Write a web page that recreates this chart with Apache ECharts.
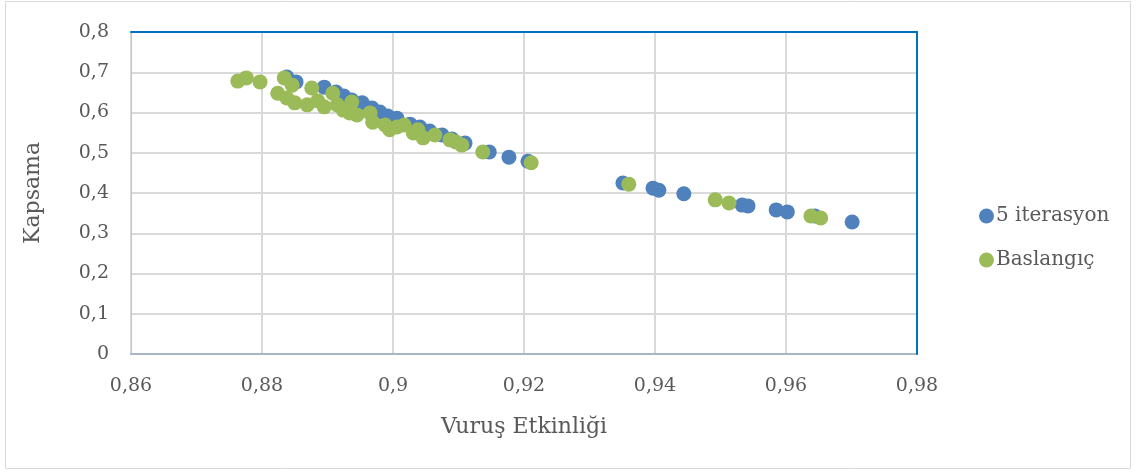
<!DOCTYPE html>
<html>
<head>
<meta charset="utf-8">
<script src="https://cdn.jsdelivr.net/npm/echarts@6/dist/echarts.min.js"></script>
<style>
  html, body { margin: 0; padding: 0; background: #ffffff; }
  #chart { width: 1137px; height: 474px; }
</style>
</head>
<body>
<div id="chart"></div>
<script>
// Series names
const seriesNames = ['5 iterasyon', 'Baslangıç'];

// 5 iterasyon: [Vuruş Etkinliği, Kapsama]
const iterX = [0.8838, 0.8852, 0.8895, 0.8913, 0.8925, 0.8937, 0.8953, 0.8968, 0.8980, 0.8992,
               0.9006, 0.9026, 0.9041, 0.9056, 0.9075, 0.9090, 0.9110, 0.9147, 0.9177, 0.9206,
               0.9351, 0.9397, 0.9406, 0.9444, 0.9533, 0.9542, 0.9585, 0.9602, 0.9644, 0.9701];
const iterY = [0.688, 0.676, 0.663, 0.651, 0.641, 0.631, 0.624, 0.611, 0.601, 0.591,
               0.586, 0.571, 0.564, 0.554, 0.544, 0.534, 0.524, 0.502, 0.489, 0.479,
               0.425, 0.412, 0.407, 0.398, 0.370, 0.368, 0.358, 0.353, 0.343, 0.328];

// Baslangıç: [Vuruş Etkinliği, Kapsama]
const startX = [0.8763, 0.8776, 0.8797, 0.8824, 0.8834, 0.8838, 0.8846, 0.8850, 0.8869, 0.8876,
                0.8885, 0.8895, 0.8908, 0.8915, 0.8924, 0.8934, 0.8937, 0.8945, 0.8965, 0.8969,
                0.8988, 0.8995, 0.9006, 0.9017, 0.9031, 0.9038, 0.9046, 0.9064, 0.9087, 0.9096,
                0.9105, 0.9137, 0.9211, 0.9360, 0.9492, 0.9513, 0.9638, 0.9653];
const startY = [0.678, 0.686, 0.676, 0.648, 0.686, 0.636, 0.668, 0.624, 0.619, 0.661,
                0.629, 0.614, 0.648, 0.619, 0.606, 0.599, 0.626, 0.594, 0.599, 0.576,
                0.569, 0.557, 0.564, 0.569, 0.549, 0.557, 0.537, 0.544, 0.532, 0.527,
                0.519, 0.502, 0.475, 0.422, 0.383, 0.375, 0.343, 0.338];

// Axis ranges
const xRange = { min: 0.86, max: 0.98, interval: 0.02 };
const yRange = { min: 0, max: 0.8, interval: 0.1 };

const zip = (xs, ys) => xs.map((x, i) => [x, ys[i]]);
const commaFmt = v => String(parseFloat(v.toFixed(2))).replace('.', ',');

const FONT = 'DejaVu Serif';
const TEXT = '#595959';
const GRIDLINE = '#D9D9D9';
const FRAME_BLUE = '#0070C0';

// Plain axis used only to draw the blue top / right frame lines
const frameAxis = (extra) => Object.assign({
  type: 'value',
  axisLine: { show: true, onZero: false, lineStyle: { color: FRAME_BLUE, width: 2 } },
  axisTick: { show: false },
  axisLabel: { show: false },
  splitLine: { show: false },
  z: 5
}, extra);

const chart = echarts.init(document.getElementById('chart'), null, { renderer: 'canvas' });

chart.setOption({
  animation: false,
  backgroundColor: '#ffffff',
  textStyle: { fontFamily: FONT, color: TEXT },
  graphic: [{
    type: 'rect',
    shape: { x: 5.5, y: 1.5, width: 1125, height: 467 },
    style: { fill: null, stroke: '#D9D9D9', lineWidth: 1 },
    silent: true
  }],
  grid: { left: 131, top: 32, width: 786, height: 322 },
  legend: {
    orient: 'vertical',
    left: 974, top: 201,
    itemWidth: 15, itemHeight: 15, itemGap: 24,
    icon: 'circle',
    textStyle: { fontFamily: FONT, fontSize: 20, color: TEXT, padding: [0, 0, 0, -3] },
    data: seriesNames
  },
  xAxis: [{
    type: 'value',
    min: xRange.min, max: xRange.max, interval: xRange.interval,
    name: 'Vuruş Etkinliği',
    nameLocation: 'middle', nameGap: 62,
    nameTextStyle: { fontFamily: FONT, fontSize: 22, color: TEXT },
    axisLine: { show: true, onZero: false, lineStyle: { color: '#A9B6C4', width: 2 } },
    axisTick: { show: false },
    axisLabel: { formatter: commaFmt, fontFamily: FONT, fontSize: 19, color: TEXT, margin: 23 },
    splitLine: { show: true, lineStyle: { color: GRIDLINE, width: 2 } }
  }, frameAxis({ position: 'top', min: xRange.min, max: xRange.max, interval: xRange.interval })],
  yAxis: [{
    type: 'value',
    min: yRange.min, max: yRange.max, interval: yRange.interval,
    name: 'Kapsama',
    nameLocation: 'middle', nameGap: 87,
    nameTextStyle: { fontFamily: FONT, fontSize: 22, color: TEXT },
    axisLine: { show: true, lineStyle: { color: '#BFC7D0', width: 1 } },
    axisTick: { show: false },
    axisLabel: { formatter: commaFmt, fontFamily: FONT, fontSize: 19, color: TEXT, margin: 22 },
    splitLine: { show: true, lineStyle: { color: GRIDLINE, width: 2 } }
  }, frameAxis({ position: 'right', min: yRange.min, max: yRange.max, interval: yRange.interval })],
  series: [
    {
      name: seriesNames[0],
      type: 'scatter',
      symbol: 'circle',
      symbolSize: 15,
      itemStyle: { color: '#4F81BD', opacity: 1 },
      data: zip(iterX, iterY)
    },
    {
      name: seriesNames[1],
      type: 'scatter',
      symbol: 'circle',
      symbolSize: 15,
      itemStyle: { color: '#9BBB59', opacity: 1 },
      data: zip(startX, startY)
    }
  ]
});
</script>
</body>
</html>
